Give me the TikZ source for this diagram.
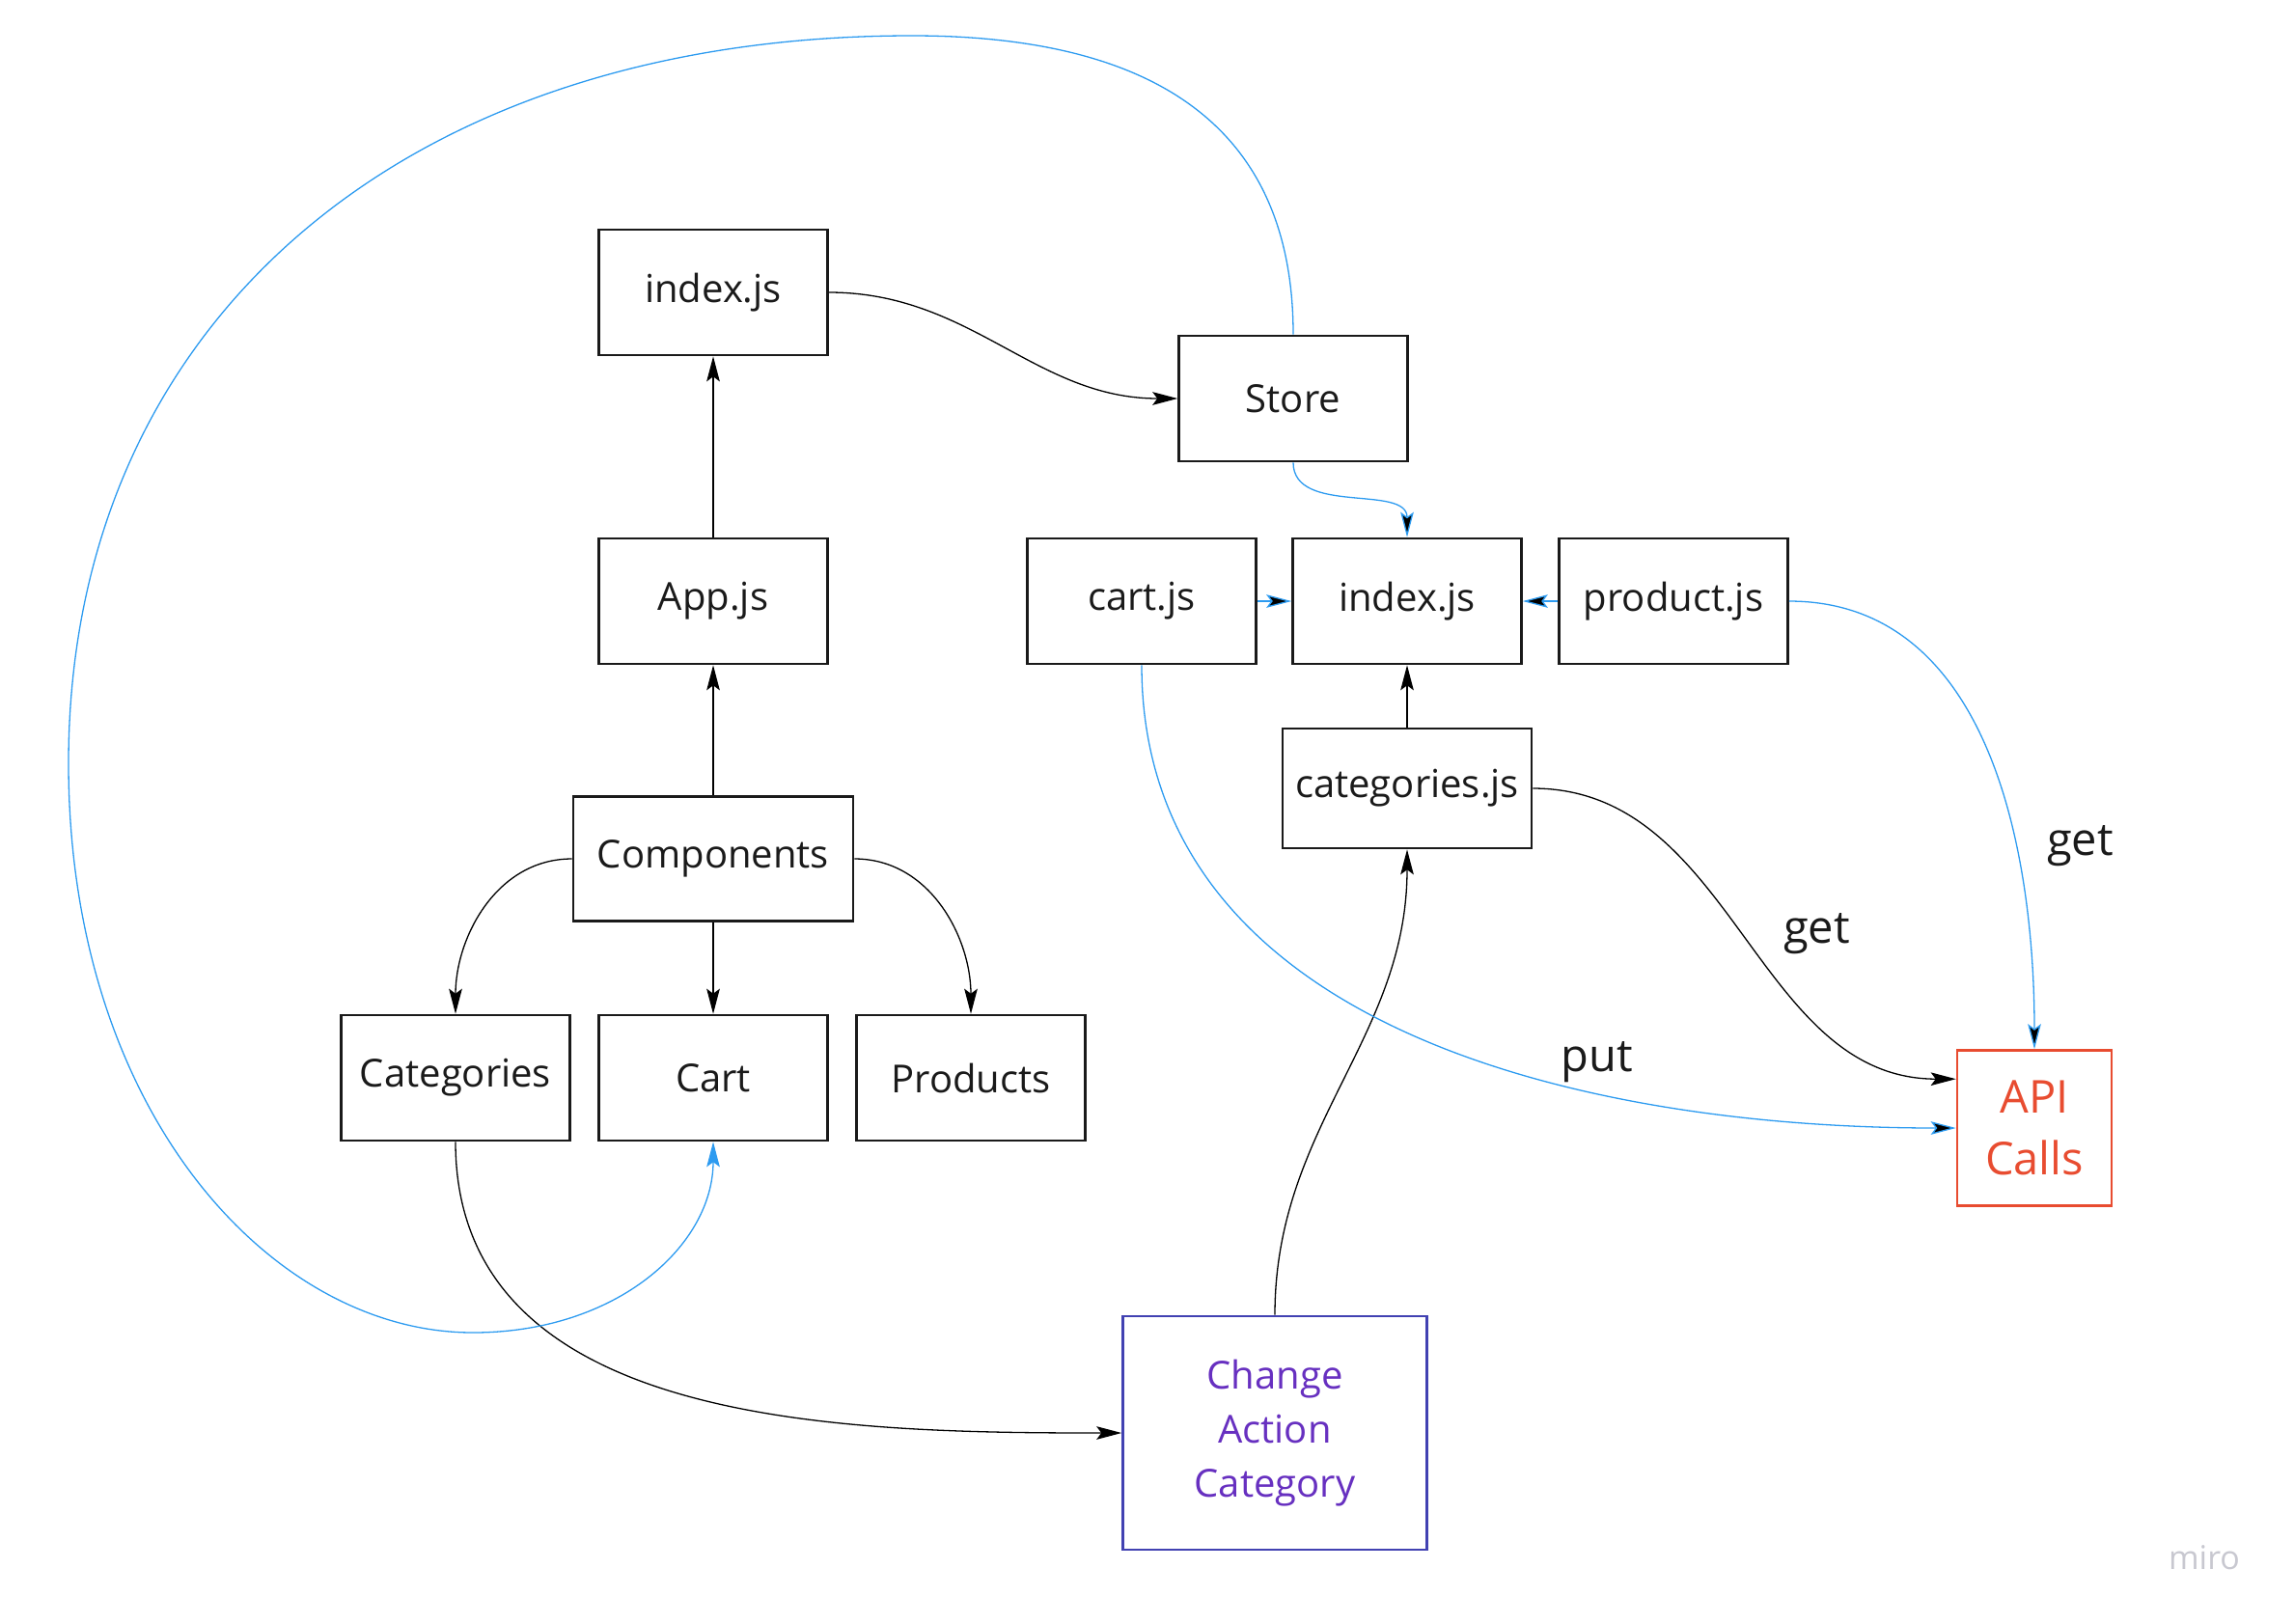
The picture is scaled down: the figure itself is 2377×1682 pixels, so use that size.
\documentclass[tikz,border=0pt]{standalone}
\usepackage{fontspec}
\setmainfont{Open Sans}
\usetikzlibrary{arrows.meta,positioning}

\definecolor{miroblue}{RGB}{45,155,240}
\definecolor{mirored}{RGB}{232,76,48}
\definecolor{miropurple}{RGB}{103,48,192}
\definecolor{miroindigo}{RGB}{66,66,178}
\definecolor{miroink}{RGB}{26,26,26}

\begin{document}
\begin{tikzpicture}[x=0.5pt,y=-0.5pt,>={Stealth[length=13pt,width=6.8pt,inset=2.5pt]},auto,line width=0.65pt,node distance=133.5pt,
  box/.style={draw=miroink,line width=1.3pt,minimum width=118.5pt,minimum height=65pt,inner sep=0pt,text=miroink,font=\fontsize{20}{24}\selectfont},
  action/.style={box,draw=miroindigo,text=miropurple,align=center,minimum width=157.5pt,minimum height=121pt,font=\fontsize{20}{28}\selectfont},
  callbox/.style={box,draw=mirored,text=mirored,align=center,minimum width=80pt,minimum height=80.5pt,font=\fontsize{23.5}{32}\selectfont},
  lbl/.style={inner sep=0pt,text=miroink,font=\fontsize{23.5}{28}\selectfont},
  flow/.style={draw=miroblue}]

\useasboundingbox (0,0) rectangle (2377,1682);

\node[box] (indextop) at (739,303) {index.js};
\node[box] (app) [below of=indextop,node distance=160pt] {App.js};
\node[box,minimum width=145pt,minimum height=64.5pt] (comps) [below of=app] {Components};
\node[box] (cart) [below of=comps,node distance=113.5pt] {Cart};
\node[box] (categories) [left of=cart] {Categories};
\node[box] (products) [right of=cart] {Products};

\node[box] (store) at (1340,413) {Store};
\node[box] (index) at (1458,623) {index.js};
\node[box] (cartjs) [left of=index,node distance=137.5pt] {cart.js};
\node[box] (productjs) [right of=index,node distance=138pt] {product.js};
\node[box,minimum width=129pt,minimum height=62pt] (categoriesjs) [below of=index,node distance=97pt] {categories.js};

\node[action] (change) at (1321,1485) {Change\\Action\\Category};
\node[callbox] (api) at (2108,1169) {API\\Calls};

\node[inner sep=0pt,text={rgb,255:red,200;green,200;blue,208},font=\fontsize{17}{20}\selectfont] (miro) at (2284,1614) {miro};

% black flows
\path[->] (app) edge (indextop)
  (comps) edge (app)
  (comps) edge (cart)
  (comps.west) edge[out=180,in=90] (categories)
  (comps.east) edge[out=0,in=90] (products)
  (indextop) edge[out=0,in=180] (store)
  (categoriesjs) edge (index)
  (change) edge[out=90,in=-90] (categoriesjs)
  (categories) edge[out=-90,in=180] (change)
  (categoriesjs) edge[out=0,in=180] node[lbl,pos=.5,right=20pt] {get} (api.148);

% blue flows
\path[->,flow] (store) edge[out=-90,in=90] (index)
  (cartjs) edge (index)
  (productjs) edge (index)
  (productjs) edge[out=0,in=90] node[lbl,pos=.67,right=16pt] {get} (api)
  (cartjs) edge[out=-90,in=180] node[lbl,pos=.68,above=5pt] {put} (api.west);

\draw[->,flow] (store.north) .. controls (1340,150) and (1220,37) .. (945,37)
  .. controls (413,37) and (71,339) .. (71,791)
  .. controls (71,1150) and (280,1381) .. (490,1381)
  .. controls (640,1381) and (739,1290) .. (cart.south);

\end{tikzpicture}
\end{document}
